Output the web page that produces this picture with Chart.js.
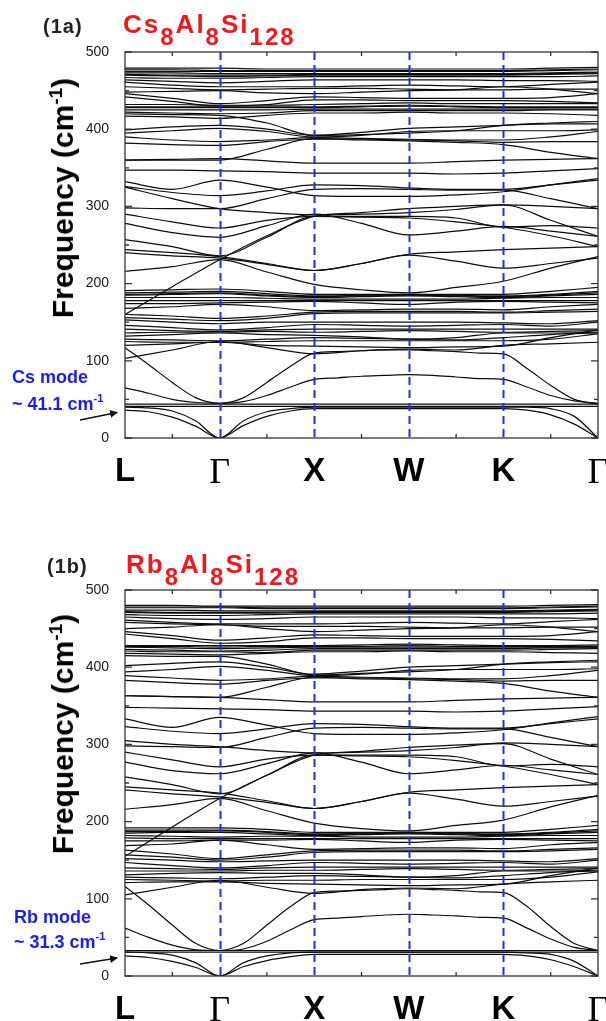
<!DOCTYPE html>
<html>
<head>
<meta charset="utf-8">
<script src="https://cdn.jsdelivr.net/npm/chart.js@4.4.1/dist/chart.umd.min.js"></script>
<style>
  body { margin: 0; width: 606px; height: 1021px; background: #fff; position: relative; overflow: hidden;
         font-family: 'Liberation Sans', Arial, sans-serif; }
  canvas { position: absolute; left: 0; }
  .tag { position: absolute; font-weight: bold; font-size: 20px; line-height: 1; color: #222; letter-spacing: 1px; }
  .formula { position: absolute; color: #f5161b; font-weight: bold; font-size: 26px; line-height: 1; letter-spacing: 2px; white-space: nowrap; }
  .formula span { position: relative; top: 12px; font-size: 24px; }
  .ytitle { position: absolute; font-weight: bold; font-size: 30px; line-height: 1; white-space: nowrap;
            transform: translate(-50%, -50%) rotate(-90deg); color: #000; }
  .ytitle sup { font-size: 19px; vertical-align: 11px; line-height: 0; }
  .mode { position: absolute; color: #1a1aff; font-weight: bold; font-size: 18px; line-height: 1; white-space: nowrap; }
  .mode sup { font-size: 11px; vertical-align: 8px; line-height: 0; }
  svg { position: absolute; left: 0; top: 0; }
</style>
</head>
<body>
<canvas id="chartCs" width="606" height="500" style="top:0"></canvas>
<canvas id="chartRb" width="606" height="500" style="top:538px"></canvas>

<div class="tag" style="left:43px; top:16px">(1a)</div>
<div class="formula" style="left:123px; top:11px">Cs<span>8</span>Al<span>8</span>Si<span>128</span></div>
<div class="ytitle" style="left:63px; top:198px">Frequency (cm<sup>-1</sup>)</div>
<div class="mode" style="left:12px; top:368px">Cs mode</div>
<div class="mode" style="left:12px; top:395px">~ 41.1 cm<sup>-1</sup></div>

<div class="tag" style="left:47px; top:556px">(1b)</div>
<div class="formula" style="left:126px; top:551px">Rb<span>8</span>Al<span>8</span>Si<span>128</span></div>
<div class="ytitle" style="left:63px; top:734px">Frequency (cm<sup>-1</sup>)</div>
<div class="mode" style="left:14px; top:908px">Rb mode</div>
<div class="mode" style="left:14px; top:933px">~ 31.3 cm<sup>-1</sup></div>

<svg width="606" height="1021">
  <defs>
    <marker id="head" markerWidth="8" markerHeight="8" refX="7" refY="4" orient="auto" markerUnits="userSpaceOnUse">
      <path d="M0,0 L8,4 L0,8 z" fill="#111"/>
    </marker>
  </defs>
  <line x1="80" y1="420" x2="117" y2="412.5" stroke="#111" stroke-width="1.5" marker-end="url(#head)"/>
  <line x1="80" y1="964" x2="117" y2="958" stroke="#111" stroke-width="1.5" marker-end="url(#head)"/>
</svg>

<script>
// high-symmetry path L - Γ - X - W - K - Γ
const kTicks = [0, 1, 2, 3, 4, 5];
const kLabels = ['L', 'Γ', 'X', 'W', 'K', 'Γ'];
const kMinor = [0.5, 1.5, 2.5, 3.5, 4.5];
const freqTicks = [0, 100, 200, 300, 400, 500];
const freqMinor = [50, 150, 250, 350, 450];

// coarse sampling (half segments) and fine sampling (quarter segments)
const kPath = [0, 0.5, 1, 1.5, 2, 2.5, 3, 3.5, 4, 4.5, 5];
const kFine = [0, 0.25, 0.5, 0.75, 1, 1.25, 1.5, 1.75, 2, 2.25, 2.5, 2.75, 3, 3.25, 3.5, 3.75, 4, 4.25, 4.5, 4.75, 5];

// Cs8Al8Si128 optical bands (cm-1) on kPath
const bandsCs = [
  [479,479,479,478,478,478,478,478,478,479,480],
  [477,477,476,476,476,476,476,476,476,477,478],
  [475,475,475,475,475,475,475,475,475,476,477],
  [473,473,472,472,472,472,472,472,472,473,474],
  [471,470,470,470,471,471,471,471,471,472,473],
  [470,469,468,469,470,470,470,470,470,471,472],
  [467,466,466,467,468,468,468,468,468,468,469],
  [464,462,460,462,464,464,464,464,463,463,462],
  [461,457,455,455,455,456,457,456,455,458,461],
  [455,453,451,452,453,453,452,451,451,452,452],
  [448,449,450,447,446,448,450,451,455,452,446],
  [446,440,433,437,442,441,440,440,440,441,446],
  [442,436,430,432,438,438,437,437,437,436,434],
  [432,432,431,431,432,433,434,433,433,433,433],
  [429,429,429,429,429,430,431,430,429,429,429],
  [428,428,428,428,428,429,430,429,428,428,428],
  [425,425,425,425,426,426,426,426,426,426,426],
  [422,421,420,421,424,424,424,424,424,425,425],
  [420,419,418,408,392,393,395,398,405,408,410],
  [417,416,414,418,421,421,422,421,421,420,418],
  [399,403,405,400,392,396,401,403,405,407,407],
  [395,398,401,397,390,392,397,398,398,398,399],
  [390,386,384,386,389,388,387,386,386,390,397],
  [382,380,379,384,387,387,386,385,383,384,384],
  [360,360,360,374,388,386,385,383,380,370,362],
  [360,361,362,359,356,356,356,358,360,361,362],
  [347,347,346,345,343,343,343,342,343,346,349],
  [332,322,334,325,314,313,313,315,319,328,336],
  [326,318,314,320,328,327,324,322,322,328,334],
  [298,297,297,310,322,323,322,321,321,310,297],
  [325,310,297,292,289,290,292,296,302,300,297],
  [290,280,272,282,287,287,287,285,273,275,272],
  [278,266,260,275,290,278,263,268,274,268,261],
  [257,248,236,260,287,286,285,280,273,262,248],
  [244,240,235,226,217,226,238,241,244,246,248],
  [240,236,233,225,217,226,237,229,220,226,233],
  [216,222,231,215,199,192,188,195,203,220,235],
  [160,196,231,262,287,292,297,300,302,282,261],
  [191,192,193,190,186,186,186,186,186,190,195],
  [188,189,190,187,184,185,186,185,184,186,190],
  [186,187,188,185,183,184,185,184,183,185,188],
  [185,186,187,184,182,183,184,183,182,184,186],
  [182,182,182,181,180,180,180,180,181,182,182],
  [178,178,178,178,178,178,178,178,178,178,178],
  [174,174,175,176,177,175,173,176,177,176,175],
  [168,170,173,170,165,166,167,167,166,170,173],
  [160,158,155,158,163,164,164,164,163,165,167],
  [156,154,152,155,161,162,162,162,162,163,164],
  [153,150,148,150,150,150,150,150,149,148,152],
  [146,143,140,143,147,146,145,146,147,145,150],
  [141,139,138,140,141,141,141,141,141,141,141],
  [136,137,137,138,137,138,139,138,137,138,139],
  [132,134,136,134,133,131,128,130,136,136,137],
  [128,127,126,128,130,129,128,127,130,134,136],
  [125,124,124,125,126,126,126,126,126,128,135],
  [120,122,124,120,119,118,117,118,119,130,140],
  [103,114,125,117,109,113,115,114,120,122,124],
  [44,44,44,44,44,44,44,44,44,44,44],
  [41,41,41,41,41,41,41,41,41,41,41]
];
// Cs8Al8Si128 low branches on kFine
const lowCs = [
  [117,95,72,52,45,52,72,93,110,112,113,114,114,113,112,110,109,90,68,50,44],
  [65,58,50,46,45,47,55,66,76,78,80,81,82,81,79,77,76,66,55,48,45],
  [36,34,27,15,0,16,28,35,38,38,38,38,38,38,38,38,38,36,30,18,0],
  [40,39,35,22,0,22,34,38,40,40,40,40,40,40,40,40,40,40,38,28,0]
];

// Rb8Al8Si128 optical bands (cm-1) on kPath
const bandsRb = [
  [480,480,479,479,479,479,479,479,479,480,481],
  [478,478,478,477,477,477,477,477,477,478,479],
  [477,477,477,476,476,476,476,476,476,477,478],
  [474,474,473,473,473,473,473,473,473,474,475],
  [472,471,471,471,472,472,472,472,472,473,474],
  [471,470,470,470,471,471,471,471,471,472,473],
  [468,467,467,468,469,469,469,469,469,469,470],
  [465,463,462,463,465,465,465,465,464,464,463],
  [461,458,456,456,456,457,458,457,456,459,462],
  [458,456,455,453,453,453,452,451,451,452,452],
  [450,452,455,450,446,448,450,451,455,452,446],
  [446,441,435,438,442,441,440,440,440,441,446],
  [443,437,431,433,438,438,437,437,437,436,434],
  [428,428,428,428,428,429,430,429,428,428,429],
  [427,427,426,427,427,427,428,427,427,427,427],
  [426,425,424,425,426,426,426,426,426,426,426],
  [423,422,421,422,424,424,424,424,424,425,425],
  [421,420,420,419,422,422,422,422,422,423,424],
  [415,414,414,404,390,392,394,397,404,407,409],
  [418,417,416,418,420,420,421,420,420,419,418],
  [402,405,407,400,391,395,400,402,404,406,407],
  [394,397,401,396,389,391,396,397,397,397,398],
  [389,386,383,385,388,387,386,385,385,389,396],
  [383,380,378,383,386,386,385,384,382,383,383],
  [363,362,361,374,387,385,384,382,379,369,361],
  [363,362,361,358,355,355,355,357,359,360,361],
  [348,347,346,345,343,343,343,342,343,346,349],
  [333,322,335,325,314,313,313,315,319,328,336],
  [323,317,314,320,327,326,323,321,321,327,333],
  [298,297,296,309,321,322,321,320,320,309,297],
  [305,300,297,292,289,290,292,296,302,300,297],
  [290,280,271,281,286,286,286,284,272,274,271],
  [277,266,262,275,289,277,262,267,273,267,261],
  [258,248,236,260,286,285,284,279,272,261,248],
  [245,241,237,227,217,226,238,241,244,246,248],
  [241,236,232,225,217,226,237,229,220,226,233],
  [216,222,230,214,198,191,188,195,202,219,234],
  [155,193,230,260,286,291,296,299,301,281,261],
  [192,192,192,190,186,186,186,186,186,190,195],
  [189,189,189,187,184,185,186,185,184,186,190],
  [187,187,188,186,183,184,185,184,183,185,188],
  [185,186,186,184,182,183,184,183,182,184,186],
  [182,181,180,181,181,180,180,180,181,182,182],
  [179,178,178,178,178,178,178,178,178,178,178],
  [175,175,176,176,177,175,173,176,177,176,175],
  [169,171,176,170,164,165,166,166,165,170,173],
  [163,158,152,157,162,163,163,163,162,164,166],
  [157,154,150,154,160,161,161,161,161,162,164],
  [152,150,148,149,150,150,150,150,149,148,152],
  [147,143,140,143,147,146,145,146,147,145,150],
  [140,139,138,140,141,141,141,141,141,141,141],
  [136,136,136,137,137,138,139,138,137,138,139],
  [131,133,134,133,133,131,128,130,136,136,137],
  [128,127,126,128,130,129,128,127,130,134,136],
  [125,124,123,124,124,125,125,125,125,128,135],
  [121,122,122,120,119,118,117,118,119,130,140],
  [105,115,124,115,107,112,114,113,119,122,124],
  [33,33,33,33,33,33,33,33,33,33,33],
  [31,31,31,31,31,31,31,31,31,31,31]
];
// Rb8Al8Si128 low branches on kFine
const lowRb = [
  [116,92,66,42,33,42,66,90,108,110,111,112,113,112,111,109,108,90,64,42,33],
  [62,50,40,34,33,35,45,60,73,75,77,79,80,79,78,76,75,62,48,37,33],
  [26,24,19,11,0,12,20,25,28,28,28,28,28,28,28,28,28,26,21,12,0],
  [31,30,27,17,0,17,26,30,31,31,31,31,31,31,31,31,31,30,28,19,0]
];

function toDatasets(path, bands) {
  return bands.map(b => ({
    data: b.map((v, i) => ({ x: path[i], y: v })),
    borderColor: '#0d0d0d',
    borderWidth: 1.2,
    pointRadius: 0,
    fill: false,
    cubicInterpolationMode: 'monotone'
  }));
}

// frame, inward ticks and dashed high-symmetry lines
const decorPlugin = {
  id: 'decor',
  afterDatasetsDraw(chart) {
    const { ctx, chartArea: a, scales: { x, y } } = chart;
    ctx.save();
    ctx.strokeStyle = '#1e2cf5';
    ctx.lineWidth = 2;
    ctx.setLineDash([8, 5]);
    kTicks.slice(1, -1).forEach(k => {
      const px = Math.round(x.getPixelForValue(k)) + 0.5;
      ctx.beginPath();
      ctx.moveTo(px, a.top);
      ctx.lineTo(px, a.bottom);
      ctx.stroke();
    });
    ctx.setLineDash([]);
    ctx.strokeStyle = '#333';
    ctx.lineWidth = 1.3;
    ctx.strokeRect(a.left, a.top, a.right - a.left, a.bottom - a.top);
    ctx.beginPath();
    freqTicks.forEach(v => {
      const py = y.getPixelForValue(v);
      ctx.moveTo(a.left, py); ctx.lineTo(a.left + 7, py);
      ctx.moveTo(a.right, py); ctx.lineTo(a.right - 7, py);
    });
    freqMinor.forEach(v => {
      const py = y.getPixelForValue(v);
      ctx.moveTo(a.left, py); ctx.lineTo(a.left + 4, py);
      ctx.moveTo(a.right, py); ctx.lineTo(a.right - 4, py);
    });
    kMinor.forEach(k => {
      const px = x.getPixelForValue(k);
      ctx.moveTo(px, a.top); ctx.lineTo(px, a.top + 4);
      ctx.moveTo(px, a.bottom); ctx.lineTo(px, a.bottom - 4);
    });
    ctx.stroke();
    ctx.restore();
  }
};

function drawPanel(id, bands, low) {
  new Chart(document.getElementById(id), {
    type: 'line',
    data: { datasets: toDatasets(kPath, bands).concat(toDatasets(kFine, low)) },
    options: {
      responsive: false,
      animation: false,
      events: [],
      layout: { padding: { top: 52, right: 8, left: 0, bottom: 0 } },
      plugins: { legend: { display: false }, tooltip: { enabled: false } },
      scales: {
        x: {
          type: 'linear', min: 0, max: 5,
          grid: { display: false }, border: { display: false },
          afterBuildTicks: s => { s.ticks = kTicks.map(v => ({ value: v })); },
          afterFit: s => { s.height = 62; s.paddingLeft = 0; s.paddingRight = 0; },
          ticks: {
            padding: 6, color: '#000', maxRotation: 0, autoSkip: false,
            callback: v => kLabels[v],
            font: c => (c.tick && kLabels[c.tick.value] === 'Γ')
              ? { family: 'Liberation Serif', size: 36, weight: 'normal' }
              : { family: 'Liberation Sans', size: 33, weight: 'bold' }
          }
        },
        y: {
          min: 0, max: 500,
          grid: { display: false }, border: { display: false },
          afterBuildTicks: s => { s.ticks = freqTicks.map(v => ({ value: v })); },
          afterFit: s => { s.width = 125; },
          ticks: { padding: 8, color: '#1a1a1a', font: { family: 'Liberation Sans', size: 14 } }
        }
      }
    },
    plugins: [decorPlugin]
  });
}

drawPanel('chartCs', bandsCs, lowCs);
drawPanel('chartRb', bandsRb, lowRb);
</script>
</body>
</html>
